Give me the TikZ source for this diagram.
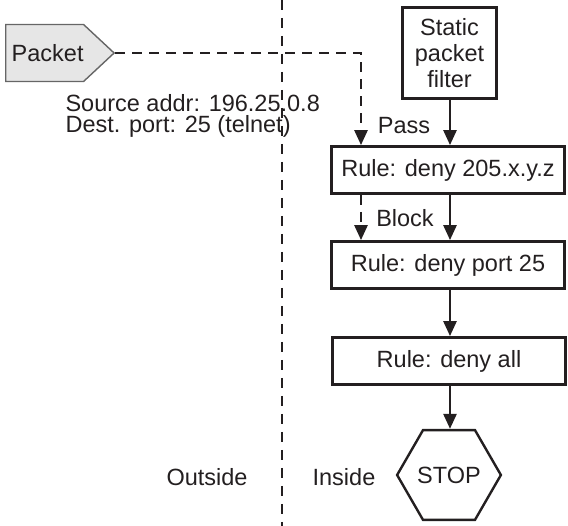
\documentclass[tikz,border=0pt]{standalone}
\usepackage{fontspec}
\setmainfont{Liberation Sans}
\usetikzlibrary{arrows.meta,positioning,shapes.symbols,shapes.geometric}
\definecolor{inkgray}{HTML}{231F20}
\definecolor{packetfill}{HTML}{E6E6E6}

\begin{document}
\begin{tikzpicture}[
        x=1pt, y=-1pt,
        color=inkgray,
        font=\fontsize{23.5}{26}\selectfont,
        rule/.style={draw, rectangle, line width=2.8pt, align=center, minimum width=233pt, minimum height=47pt, inner sep=0pt},
        filterbox/.style={draw, rectangle, line width=2.8pt, align=center, minimum width=94pt, minimum height=91pt, inner sep=0pt},
        packetbox/.style={signal, signal to=east, signal pointer angle=86, draw=black!60, fill=packetfill, line width=1.4pt, minimum height=57pt, inner xsep=0pt},
        stopbox/.style={regular polygon, regular polygon sides=6, draw, line width=2.4pt, minimum size=102pt, inner sep=0pt},
        flow/.style={-{Triangle[length=15pt,width=13pt]}, line width=2.6pt},
        route/.style={flow, dash pattern=on 10pt off 7pt},
        wall/.style={line width=2.8pt, dash pattern=on 10pt off 8pt}
    ]
        \useasboundingbox (0,0) rectangle (568,526);

        \coordinate (walltop) at (282,0);
        \coordinate (wallbot) at (282,526);
        \draw[wall] (walltop) -- (wallbot);

        \node[packetbox, anchor=west] (packet) at (5,53) {\hspace*{6pt}Packet};
        \node[align=left, anchor=west, font=\fontsize{23.5}{21.5}\selectfont] (header) at (62,116) {Source addr: 196.25.0.8\\Dest. port: 25 (telnet)};

        \node[filterbox] (filter) at (449.5,53) {Static\\packet\\filter};
        \node[rule] (rule1) at (448,170) {Rule: deny 205.x.y.z};
        \node[rule] (rule2) at (448,265) {Rule: deny port 25};
        \node[rule] (rule3) at (449,361) {Rule: deny all};
        \node[stopbox] (stop) at (449,475) {STOP};

        \node (pass) at (404,126) {Pass};
        \node (block) at (405,218) {Block};
        \node (outside) at (207,477) {Outside};
        \node (inside) at (344,477) {Inside};

        \coordinate (lane) at (361,0);
        \coordinate (trunk) at (450,0);

        \draw[route] (packet.east) -| (lane |- rule1.north);
        \draw[route] (lane |- rule1.south) -- (lane |- rule2.north);

        \draw[flow] (trunk |- filter.south) -- (trunk |- rule1.north);
        \draw[flow] (trunk |- rule1.south) -- (trunk |- rule2.north);
        \draw[flow] (trunk |- rule2.south) -- (trunk |- rule3.north);
        \draw[flow] (trunk |- rule3.south) -- (trunk |- stop.north);
    \end{tikzpicture}
\end{document}
